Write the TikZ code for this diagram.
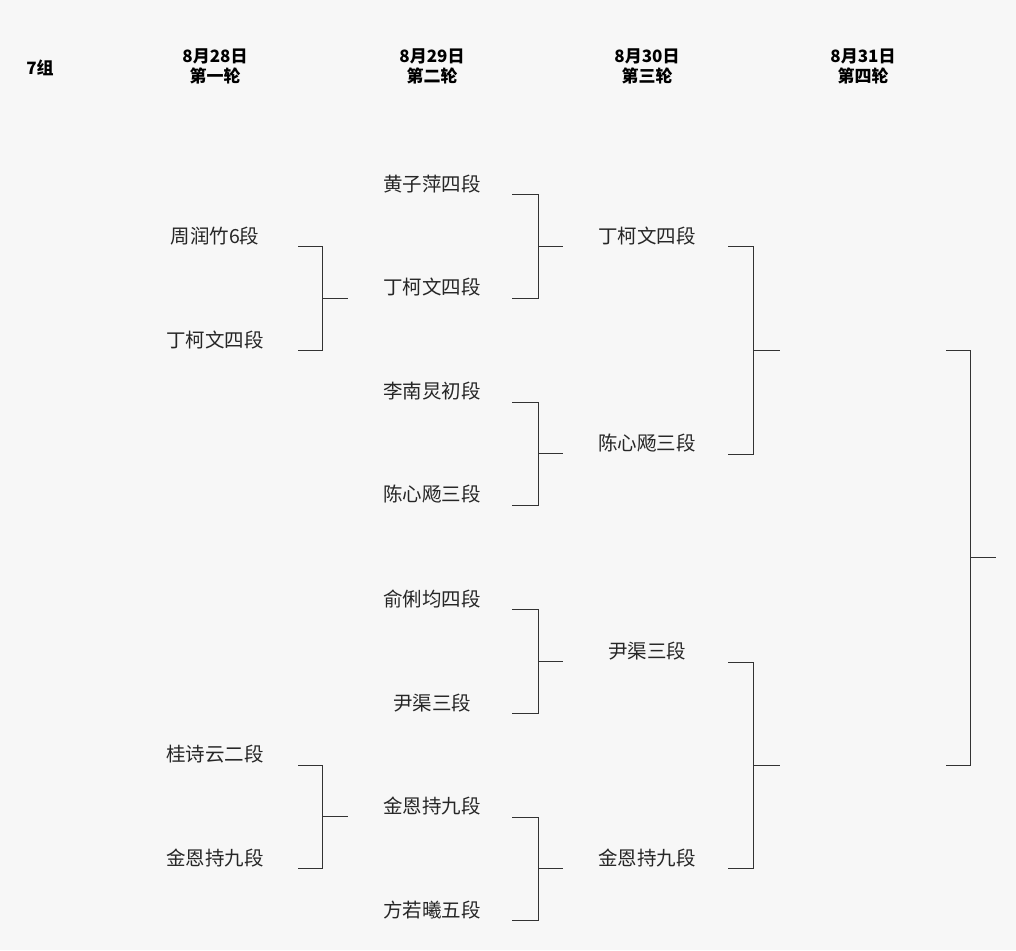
\documentclass[tikz,border=0pt]{standalone}
\usepackage{fontspec}
\newfontfamily\cjk{Noto Sans CJK SC}
\begin{document}
\begin{tikzpicture}[x=1pt,y=-1pt,
  nm/.style={font=\cjk\fontsize{19.5}{21}\selectfont, text=black!85},
  hd/.style={font=\cjk\bfseries\fontsize{17}{20}\selectfont, align=center},
  ln/.style={draw=black!80, line width=0.8pt}]
\fill[black!3] (0,0) rectangle (1016,950);
\useasboundingbox (0,0) rectangle (1016,950);
\node[hd] (g) at (40,68) {7组};
\node[hd] (h1) at (215,66) {8月28日\\第一轮};
\node[hd] (h2) at (432,66) {8月29日\\第二轮};
\node[hd] (h3) at (647,66) {8月30日\\第三轮};
\node[hd] (h4) at (863,66) {8月31日\\第四轮};
% round 1
\node[nm] (a1) at (215,236) {周润竹6段};
\node[nm] (a2) at (215,340) {丁柯文四段};
\node[nm] (a3) at (215,754) {桂诗云二段};
\node[nm] (a4) at (215,858) {金恩持九段};
% round 2
\node[nm] (b1) at (432,184) {黄子萍四段};
\node[nm] (b2) at (432,287) {丁柯文四段};
\node[nm] (b3) at (432,391) {李南炅初段};
\node[nm] (b4) at (432,494) {陈心飏三段};
\node[nm] (b5) at (432,599) {俞俐均四段};
\node[nm] (b6) at (432,703) {尹渠三段};
\node[nm] (b7) at (432,806) {金恩持九段};
\node[nm] (b8) at (432,910) {方若曦五段};
% round 3
\node[nm] (c1) at (647,236) {丁柯文四段};
\node[nm] (c2) at (647,443) {陈心飏三段};
\node[nm] (c3) at (647,651) {尹渠三段};
\node[nm] (c4) at (647,858) {金恩持九段};
\newcommand\brk[5]{% x1 xv x2 ytop ybot
  \draw[ln] (#1,#4) -- (#2,#4) -- (#2,#5) -- (#1,#5);
  \draw[ln] (#2,{(#4+#5)/2}) -- (#3,{(#4+#5)/2});}
\brk{298}{322}{348}{246}{350}
\brk{298}{322}{348}{765}{868}
\brk{512}{538}{563}{194}{298}
\brk{512}{538}{563}{402}{505}
\brk{512}{538}{563}{609}{713}
\brk{512}{538}{563}{817}{920}
\brk{728}{753}{780}{246}{454}
\brk{728}{753}{780}{662}{868}
\brk{946}{970}{996}{350}{765}
\end{tikzpicture}
\end{document}
